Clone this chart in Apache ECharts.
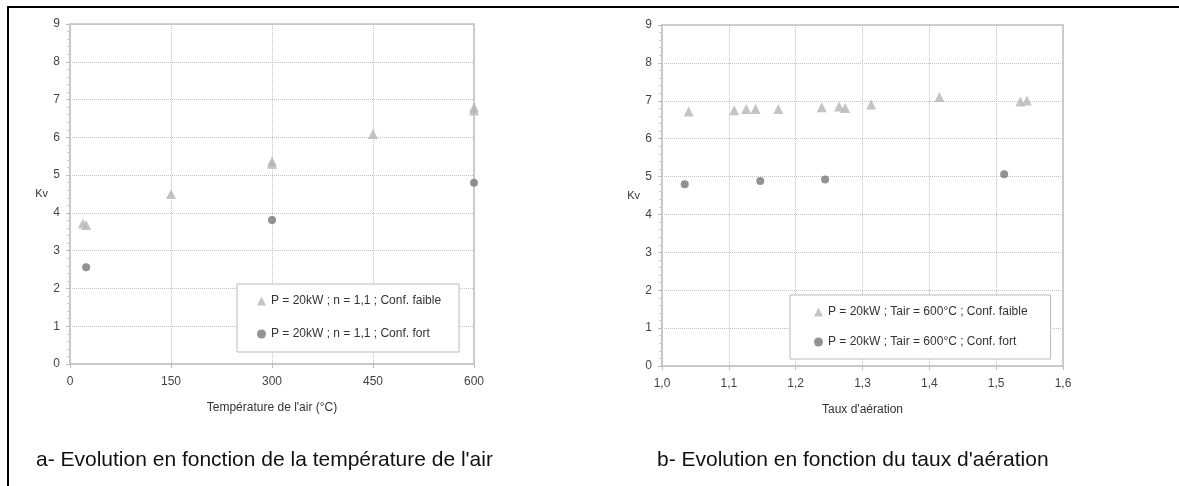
<!DOCTYPE html>
<html>
<head>
<meta charset="utf-8">
<script src="https://cdn.jsdelivr.net/npm/echarts@6/dist/echarts.min.js"></script>
<style>
html,body{margin:0;padding:0;background:#fff;}
#c{width:1179px;height:486px;}
</style>
</head>
<body>
<div id="c"></div>
<script>
// ---- Data ----
const tempFaible = [[19, 3.72], [24, 3.68], [150, 4.5], [300, 5.36], [300, 5.3], [450, 6.09], [600, 6.79], [600, 6.71]];
const tempFort = [[24, 2.56], [300, 3.81], [600, 4.8]];
const tauxFaible = [[1.040, 6.72], [1.108, 6.75], [1.126, 6.78], [1.140, 6.78], [1.174, 6.78], [1.239, 6.83], [1.265, 6.85], [1.274, 6.81], [1.313, 6.90], [1.415, 7.10], [1.536, 6.98], [1.546, 7.01]];
const tauxFort = [[1.034, 4.80], [1.147, 4.88], [1.244, 4.92], [1.512, 5.06]];
const legendA = ['P = 20kW ; n = 1,1 ; Conf. faible', 'P = 20kW ; n = 1,1 ; Conf. fort'];
const legendB = ['P = 20kW ; Tair = 600°C ; Conf. faible', 'P = 20kW ; Tair = 600°C ; Conf. fort'];
const xNameA = "Température de l'air (°C)";
const xNameB = "Taux d'aération";
const yName = 'Kv';
const captionA = "a- Evolution en fonction de la température de l'air";
const captionB = "b- Evolution en fonction du taux d'aération";

const FONT = 'Liberation Sans, Arial, sans-serif';
const colFaible = '#b5b5b5';
const colFort = '#777777';

function yAxisCfg(gridIndex) {
  return {
    gridIndex, type: 'value', min: 0, max: 9, interval: 1,
    name: yName, nameLocation: 'middle', nameRotate: 0, nameGap: 22,
    nameTextStyle: {fontFamily: FONT, fontSize: 11, color: '#333'},
    axisLine: {show: true, lineStyle: {color: '#c8c8c8', width: 2}},
    axisTick: {show: true, length: 4, lineStyle: {color: '#bbb'}},
    minorTick: {show: true, splitNumber: 5, length: 3, lineStyle: {color: '#ccc'}},
    axisLabel: {fontFamily: FONT, fontSize: 12, color: '#444', margin: 10},
    splitLine: {show: true, lineStyle: {color: '#c4c4c4', type: 'dotted'}}
  };
}

const option = {
  animation: false,
  backgroundColor: '#fff',
  grid: [
    {left: 70, right: 705, top: 24, bottom: 122, show: true, borderColor: '#cfcfcf', borderWidth: 2},
    {left: 662, right: 116, top: 25, bottom: 120, show: true, borderColor: '#cfcfcf', borderWidth: 2}
  ],
  xAxis: [
    {gridIndex: 0, type: 'value', min: 0, max: 600, interval: 150,
     name: xNameA, nameLocation: 'middle', nameGap: 38,
     nameTextStyle: {fontFamily: FONT, fontSize: 12, color: '#333'},
     axisLine: {show: true, onZero: false, lineStyle: {color: '#c8c8c8', width: 2}},
     axisTick: {show: true, length: 4, inside: false, lineStyle: {color: '#bbb'}},
     axisLabel: {fontFamily: FONT, fontSize: 12, color: '#444', margin: 12},
     splitLine: {show: true, lineStyle: {color: '#c4c4c4', type: 'dotted'}}},
    {gridIndex: 1, type: 'value', min: 1.0, max: 1.6, interval: 0.1,
     name: xNameB, nameLocation: 'middle', nameGap: 38,
     nameTextStyle: {fontFamily: FONT, fontSize: 12, color: '#333'},
     axisLine: {show: true, onZero: false, lineStyle: {color: '#c8c8c8', width: 2}},
     axisTick: {show: true, length: 4, lineStyle: {color: '#bbb'}},
     axisLabel: {fontFamily: FONT, fontSize: 12, color: '#444', margin: 12,
       formatter: v => v.toFixed(1).replace('.', ',')},
     splitLine: {show: true, lineStyle: {color: '#c4c4c4', type: 'dotted'}}}
  ],
  yAxis: [yAxisCfg(0), yAxisCfg(1)],
  legend: [
    {data: legendA, orient: 'vertical', left: 237, top: 284,
     backgroundColor: '#fff', borderColor: '#bbb', borderWidth: 1,
     padding: [11, 18, 12, 20], itemGap: 21, itemWidth: 9, itemHeight: 9,
     textStyle: {fontFamily: FONT, fontSize: 12, color: '#333'}},
    {data: legendB, orient: 'vertical', left: 790, top: 295,
     backgroundColor: '#fff', borderColor: '#bbb', borderWidth: 1,
     padding: [11, 23, 11, 24], itemGap: 18, itemWidth: 9, itemHeight: 9,
     textStyle: {fontFamily: FONT, fontSize: 12, color: '#333'}}
  ],
  series: [
    {name: legendA[0], type: 'scatter', xAxisIndex: 0, yAxisIndex: 0, data: tempFaible,
     symbol: 'triangle', symbolSize: 10, itemStyle: {color: colFaible}},
    {name: legendA[1], type: 'scatter', xAxisIndex: 0, yAxisIndex: 0, data: tempFort,
     symbol: 'circle', symbolSize: 8, itemStyle: {color: colFort}},
    {name: legendB[0], type: 'scatter', xAxisIndex: 1, yAxisIndex: 1, data: tauxFaible,
     symbol: 'triangle', symbolSize: 10, itemStyle: {color: colFaible}},
    {name: legendB[1], type: 'scatter', xAxisIndex: 1, yAxisIndex: 1, data: tauxFort,
     symbol: 'circle', symbolSize: 8, itemStyle: {color: colFort}}
  ],
  graphic: [
    {type: 'line', shape: {x1: 7, y1: 7, x2: 1179, y2: 7}, style: {stroke: '#000', lineWidth: 2}, z: 10},
    {type: 'line', shape: {x1: 8, y1: 6, x2: 8, y2: 486}, style: {stroke: '#000', lineWidth: 2}, z: 10},
    {type: 'text', left: 36, top: 450, style: {text: captionA, font: '21px ' + FONT, fill: '#111'}},
    {type: 'text', left: 657, top: 450, style: {text: captionB, font: '21px ' + FONT, fill: '#111'}}
  ]
};

const chart = echarts.init(document.getElementById('c'), null, {renderer: 'canvas'});
chart.setOption(option);
</script>
</body>
</html>
